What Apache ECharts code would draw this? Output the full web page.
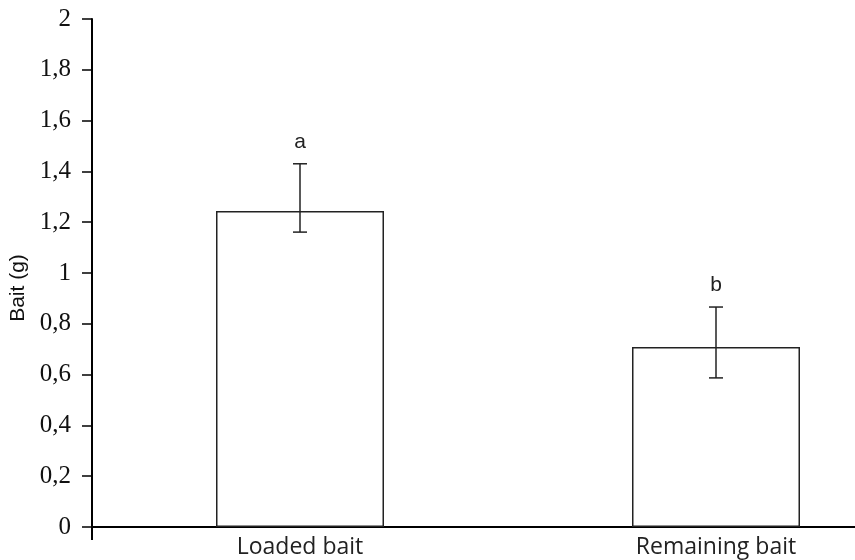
<!DOCTYPE html>
<html>
<head>
<meta charset="utf-8">
<script src="https://cdn.jsdelivr.net/npm/echarts@6/dist/echarts.min.js"></script>
<style>
  html, body { margin: 0; padding: 0; background: #fff; }
  #chart { width: 855px; height: 560px; }
</style>
</head>
<body>
<div id="chart"></div>
<script>
// Bait mass per treatment (g), with error bar limits and significance letters
const categories = ['Loaded bait', 'Remaining bait'];
const meanValues = [1.244, 0.709];
const upperValues = [1.430, 0.866];
const lowerValues = [1.161, 0.587];
const groupLetters = ['a', 'b'];

const chart = echarts.init(document.getElementById('chart'), null, { renderer: 'canvas' });

const errorData = categories.map((c, i) => [i, lowerValues[i], upperValues[i], groupLetters[i]]);

chart.setOption({
  backgroundColor: '#ffffff',
  animation: false,
  // the plot area runs past the right edge so the two bars sit where they belong
  grid: { left: 92, width: 832, top: 19, bottom: 33, outerBoundsMode: 'none', containLabel: false },
  xAxis: {
    type: 'category',
    data: categories,
    boundaryGap: true,
    axisLine: { lineStyle: { color: '#000', width: 2 } },
    axisTick: {
      show: true,
      interval: function (index) { return index === 0; },
      length: 13,
      lineStyle: { color: '#000', width: 2 }
    },
    axisLabel: {
      color: '#222',
      fontFamily: 'Open Sans',
      fontSize: 23,
      margin: 9
    }
  },
  yAxis: {
    type: 'value',
    min: 0,
    max: 2,
    interval: 0.2,
    name: 'Bait (g)',
    nameLocation: 'middle',
    nameRotate: 90,
    nameGap: 63,
    nameTextStyle: { color: '#111', fontFamily: 'Liberation Sans', fontSize: 21, padding: [0, 30, 0, 0] },
    splitLine: { show: false },
    axisLine: { show: true, lineStyle: { color: '#000', width: 2 } },
    axisTick: { show: true, inside: false, length: 10, lineStyle: { color: '#000', width: 1.5 } },
    axisLabel: {
      color: '#111',
      fontFamily: 'Liberation Serif',
      fontSize: 25,
      margin: 21,
      formatter: function (v) { return String(Math.round(v * 10) / 10).replace('.', ','); }
    }
  },
  series: [
    {
      type: 'bar',
      data: meanValues,
      barWidth: 168,
      itemStyle: { color: '#ffffff', borderColor: '#222', borderWidth: 1.5 },
      z: 2
    },
    {
      type: 'custom',
      data: errorData,
      z: 3,
      renderItem: function (params, api) {
        const x = api.value(0);
        const lo = api.coord([x, api.value(1)]);
        const hi = api.coord([x, api.value(2)]);
        const cap = 7;
        const style = { stroke: '#222', lineWidth: 1.5, fill: null };
        return {
          type: 'group',
          children: [
            { type: 'line', shape: { x1: hi[0], y1: hi[1], x2: lo[0], y2: lo[1] }, style: style },
            { type: 'line', shape: { x1: hi[0] - cap, y1: hi[1], x2: hi[0] + cap, y2: hi[1] }, style: style },
            { type: 'line', shape: { x1: lo[0] - cap, y1: lo[1], x2: lo[0] + cap, y2: lo[1] }, style: style },
            {
              type: 'text',
              style: {
                text: api.value(3),
                x: hi[0],
                y: hi[1] - 11,
                textAlign: 'center',
                textVerticalAlign: 'bottom',
                fill: '#222',
                font: '21px "Liberation Sans"'
              }
            }
          ]
        };
      }
    }
  ]
});
</script>
</body>
</html>
